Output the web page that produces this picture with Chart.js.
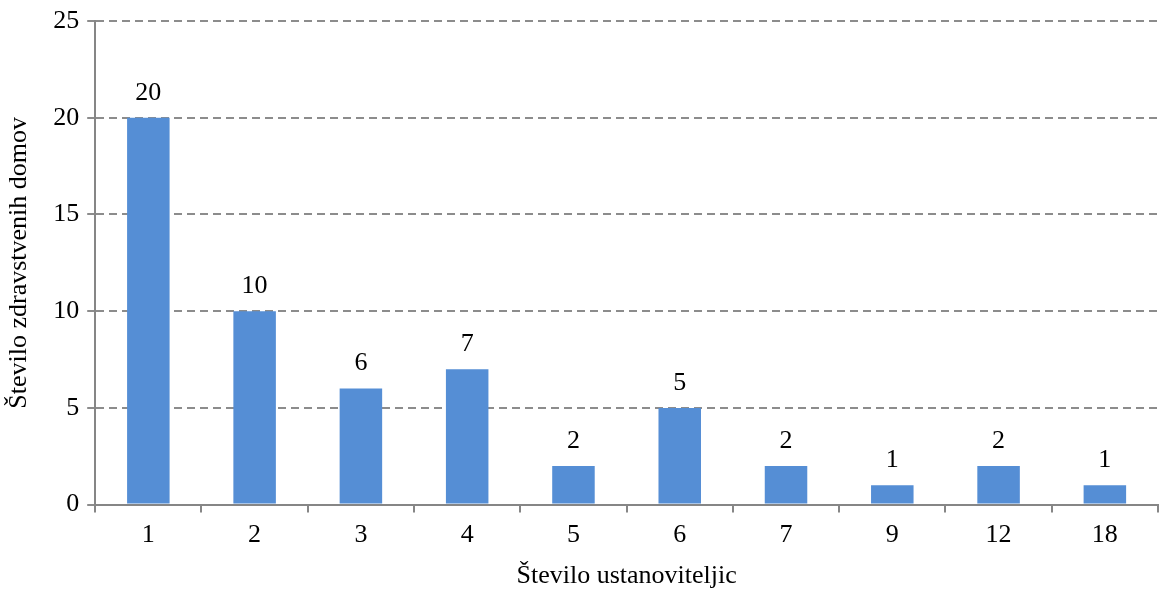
<!DOCTYPE html>
<html>
<head>
<meta charset="utf-8">
<script src="https://cdn.jsdelivr.net/npm/chart.js@4/dist/chart.umd.min.js"></script>
<style>
  html, body { margin: 0; padding: 0; background: #fff; }
  #wrap { width: 1161px; height: 592px; position: relative; }
</style>
</head>
<body>
<div id="wrap"><canvas id="chart"></canvas></div>
<script>
// datos del grafico
const categorias = ['1', '2', '3', '4', '5', '6', '7', '9', '12', '18']
const valores = [20, 10, 6, 7, 2, 5, 2, 1, 2, 1]
const tituloX = 'Število ustanoviteljic'
const tituloY = 'Število zdravstvenih domov'

const fuente = "'Liberation Serif', 'Times New Roman', serif"
Chart.defaults.font.family = fuente
Chart.defaults.font.size = 26
Chart.defaults.color = '#000'

// etiquetas con el valor encima de cada barra
const etiquetas = {
    id: 'etiquetas',
    afterDatasetsDraw(chart) {
        const ctx = chart.ctx
        ctx.save()
        ctx.font = '26px ' + fuente
        ctx.fillStyle = '#000'
        ctx.textAlign = 'center'
        ctx.textBaseline = 'bottom'
        chart.getDatasetMeta(0).data.forEach((bar, i) => {
            ctx.fillText(valores[i], bar.x, bar.y - 12)
        })
        ctx.restore()
    }
}

new Chart('chart', {
    type: 'bar',
    data: {
        labels: categorias,
        datasets: [{
            data: valores,
            backgroundColor: '#558ed5',
            barPercentage: 0.4,
            categoryPercentage: 1
        }]
    },
    options: {
        responsive: true,
        maintainAspectRatio: false,
        animation: false,
        layout: { padding: { top: 0, right: 3, left: 0, bottom: 0 } },
        plugins: {
            legend: { display: false },
            tooltip: { enabled: false }
        },
        scales: {
            x: {
                offset: true,
                grid: {
                    offset: true,
                    drawOnChartArea: false,
                    color: '#868686',
                    lineWidth: 2,
                    tickLength: 8
                },
                border: { color: '#868686', width: 2 },
                ticks: { padding: 7 },
                title: { display: true, text: tituloX, padding: { top: 3, bottom: 0 } }
            },
            y: {
                min: 0,
                max: 25,
                ticks: { stepSize: 5, padding: 8, font: { lineHeight: 1 } },
                grid: {
                    color: '#8c8c8c',
                    lineWidth: 2,
                    tickLength: 8,
                    tickBorderDash: []
                },
                // en v4 el dash del borde se aplica a las lineas de la rejilla
                border: { color: '#868686', width: 2, dash: [8, 5] },
                title: { display: true, text: tituloY, padding: { bottom: 10 } }
            }
        }
    },
    plugins: [etiquetas]
})
</script>
</body>
</html>
